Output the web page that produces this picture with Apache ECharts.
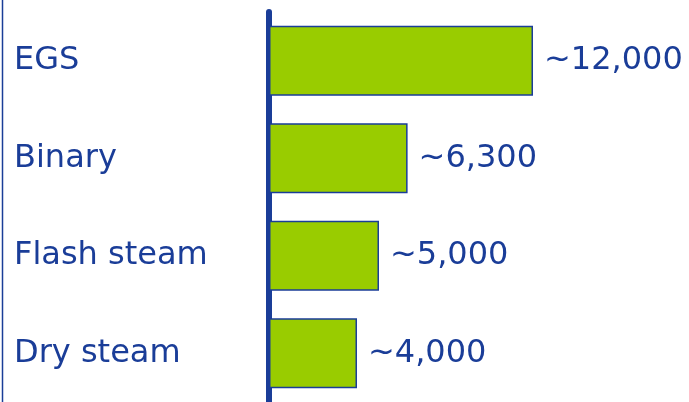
<!DOCTYPE html>
<html>
<head>
<meta charset="utf-8">
<script src="https://cdn.jsdelivr.net/npm/echarts@6/dist/echarts.min.js"></script>
<style>
  html, body { margin: 0; padding: 0; background: #ffffff; }
  #chart { width: 689px; height: 402px; }
</style>
</head>
<body>
<div id="chart"></div>
<script>
// Plant types, top to bottom
const categories = ['EGS', 'Binary', 'Flash steam', 'Dry steam'];
// Approximate values shown beside each bar
const values = [12000, 6300, 5000, 4000];

const blue = '#1a3d98';
const green = '#99cc00';

const chart = echarts.init(document.getElementById('chart'));

chart.setOption({
  animation: false,
  grid: { left: 269, right: 90, top: 12, bottom: -2 },
  xAxis: {
    type: 'value',
    min: 0,
    max: 15000,
    show: false
  },
  yAxis: {
    type: 'category',
    data: categories,
    inverse: true,
    axisLine: { show: true, lineStyle: { color: blue, width: 6, cap: 'round' } },
    axisTick: { show: false },
    axisLabel: {
      align: 'left',
      margin: 255,
      color: blue,
      fontFamily: 'DejaVu Sans',
      fontSize: 32,
      padding: [6, 0, 0, 0]
    }
  },
  series: [{
    type: 'bar',
    data: values,
    barWidth: 70,
    itemStyle: { color: green, borderColor: blue, borderWidth: 1.5 },
    label: {
      show: true,
      position: 'right',
      distance: 11,
      color: blue,
      fontFamily: 'DejaVu Sans',
      fontSize: 32,
      padding: [6, 0, 0, 0],
      formatter: p => '~' + p.value.toLocaleString('en-US')
    }
  }],
  graphic: [{
    type: 'line',
    shape: { x1: 2.5, y1: 0, x2: 2.5, y2: 402 },
    style: { stroke: blue, lineWidth: 1.5 }
  }]
});
</script>
</body>
</html>
